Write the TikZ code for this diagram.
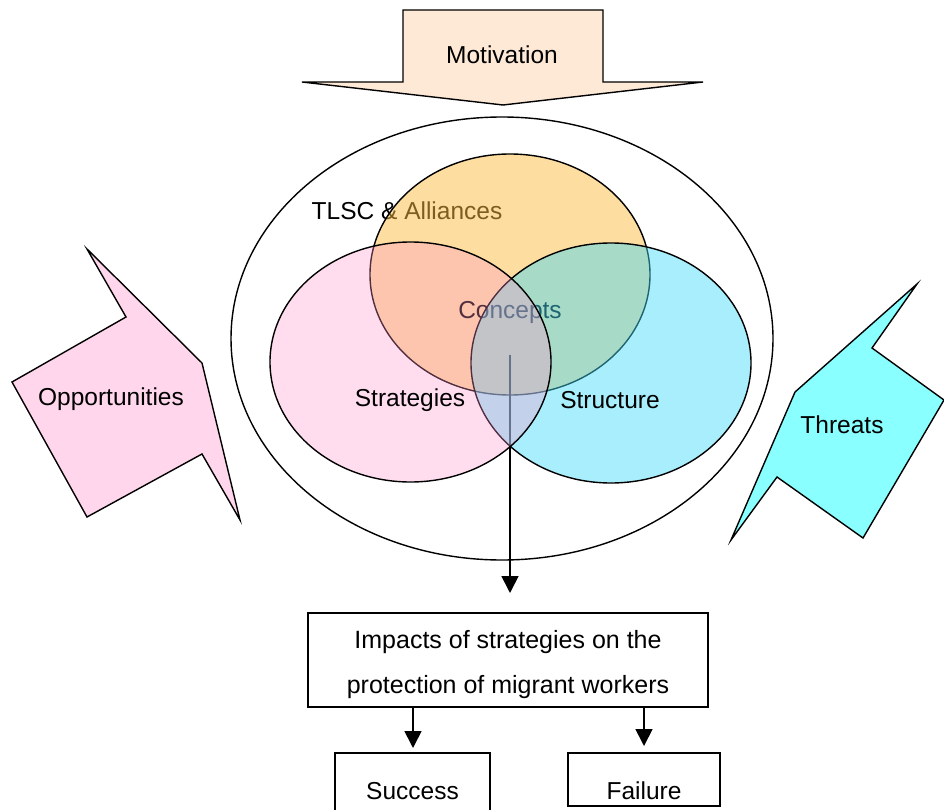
\documentclass[tikz,border=0pt]{standalone}
\usepackage{fontspec}
\setmainfont{Liberation Sans}
\usetikzlibrary{arrows.meta}
\definecolor{motfill}{RGB}{253,233,214}
\definecolor{oppfill}{RGB}{255,214,236}
\definecolor{thrfill}{RGB}{138,255,255}
\definecolor{pinkE}{RGB}{255,149,202}
\definecolor{orangeE}{RGB}{251,187,65}
\definecolor{cyanE}{RGB}{66,218,248}
\tikzset{
  lbl/.style={font=\fontsize{24.5}{28}\selectfont, inner sep=0pt},
  shape line/.style={draw=black, line width=1.4pt, line join=miter},
  venn/.style={draw=black, line width=1.4pt},
  box/.style={draw=black, line width=1.4pt, fill=white, inner sep=0pt},
  arr/.style={line width=1.7pt, -{Triangle[length=17pt,width=17pt]}},
}
\begin{document}
\begin{tikzpicture}[x=1pt,y=-1pt]
\useasboundingbox (0,0) rectangle (944,810);
% Motivation arrow
\draw[shape line, fill=motfill] (403,10) -- (603,10) -- (603,82) -- (703,82) -- (503,105) -- (302,82) -- (403,82) -- cycle;
\node[lbl] (mot) at (502,55) {Motivation};
% Opportunities
\draw[shape line, fill=oppfill] (87,249) -- (202,363) -- (240,520) -- (202,454) -- (87,517) -- (12,382) -- (126,317) -- cycle;
\node[lbl] (opp) at (111,399) {Opportunities};
% Threats
\draw[shape line, fill=thrfill] (917,284) -- (872,348) -- (944,400) -- (863,538) -- (777,477) -- (731,540) -- (795,392) -- cycle;
\node[lbl] (thr) at (842,425) {Threats};
% outer ellipse
\draw[line width=1.4pt] (502,338.5) ellipse [x radius=271, y radius=221.5];
% Venn ellipses with texts between layers
\node[lbl] (tlsc) at (407,211) {TLSC \& Alliances};
\draw[venn, fill=orangeE, fill opacity=0.5] (510,274.5) ellipse [x radius=140, y radius=120.5];
\node[lbl] (conc) at (510,312) {Concepts};
\coordinate (c0) at (510,355);
\coordinate (c1) at (510,593);
\draw[arr] (c0) -- (c1);
\draw[venn, fill=cyanE, fill opacity=0.46] (611,363) ellipse [x radius=140, y radius=120];
\draw[venn, fill=pinkE, fill opacity=0.32] (410.5,362) ellipse [x radius=140.5, y radius=120];
\node[lbl] (strat) at (410,400) {Strategies};
\node[lbl] (struc) at (610,400) {Structure};
% boxes
\node[box, minimum width=400pt, minimum height=94pt] (imp) at (508,660) {};
\node[align=center, inner sep=0pt, font=\fontsize{25}{45}\selectfont] (impt) at (508,665) {Impacts of strategies on the\\protection of migrant workers};
\node[box, minimum width=155pt, minimum height=70pt] (succ) at (412.5,788) {};
\node[lbl] (succt) at (412.5,791) {Success};
\node[box, minimum width=152pt, minimum height=53pt] (fail) at (644,779.5) {};
\node[lbl] (failt) at (644,791) {Failure};
\coordinate (sa) at (413,707);
\coordinate (fa) at (644,707);
\draw[arr] (sa) -- ++(0,41);
\draw[arr] (fa) -- ++(0,39);
\end{tikzpicture}
\end{document}
